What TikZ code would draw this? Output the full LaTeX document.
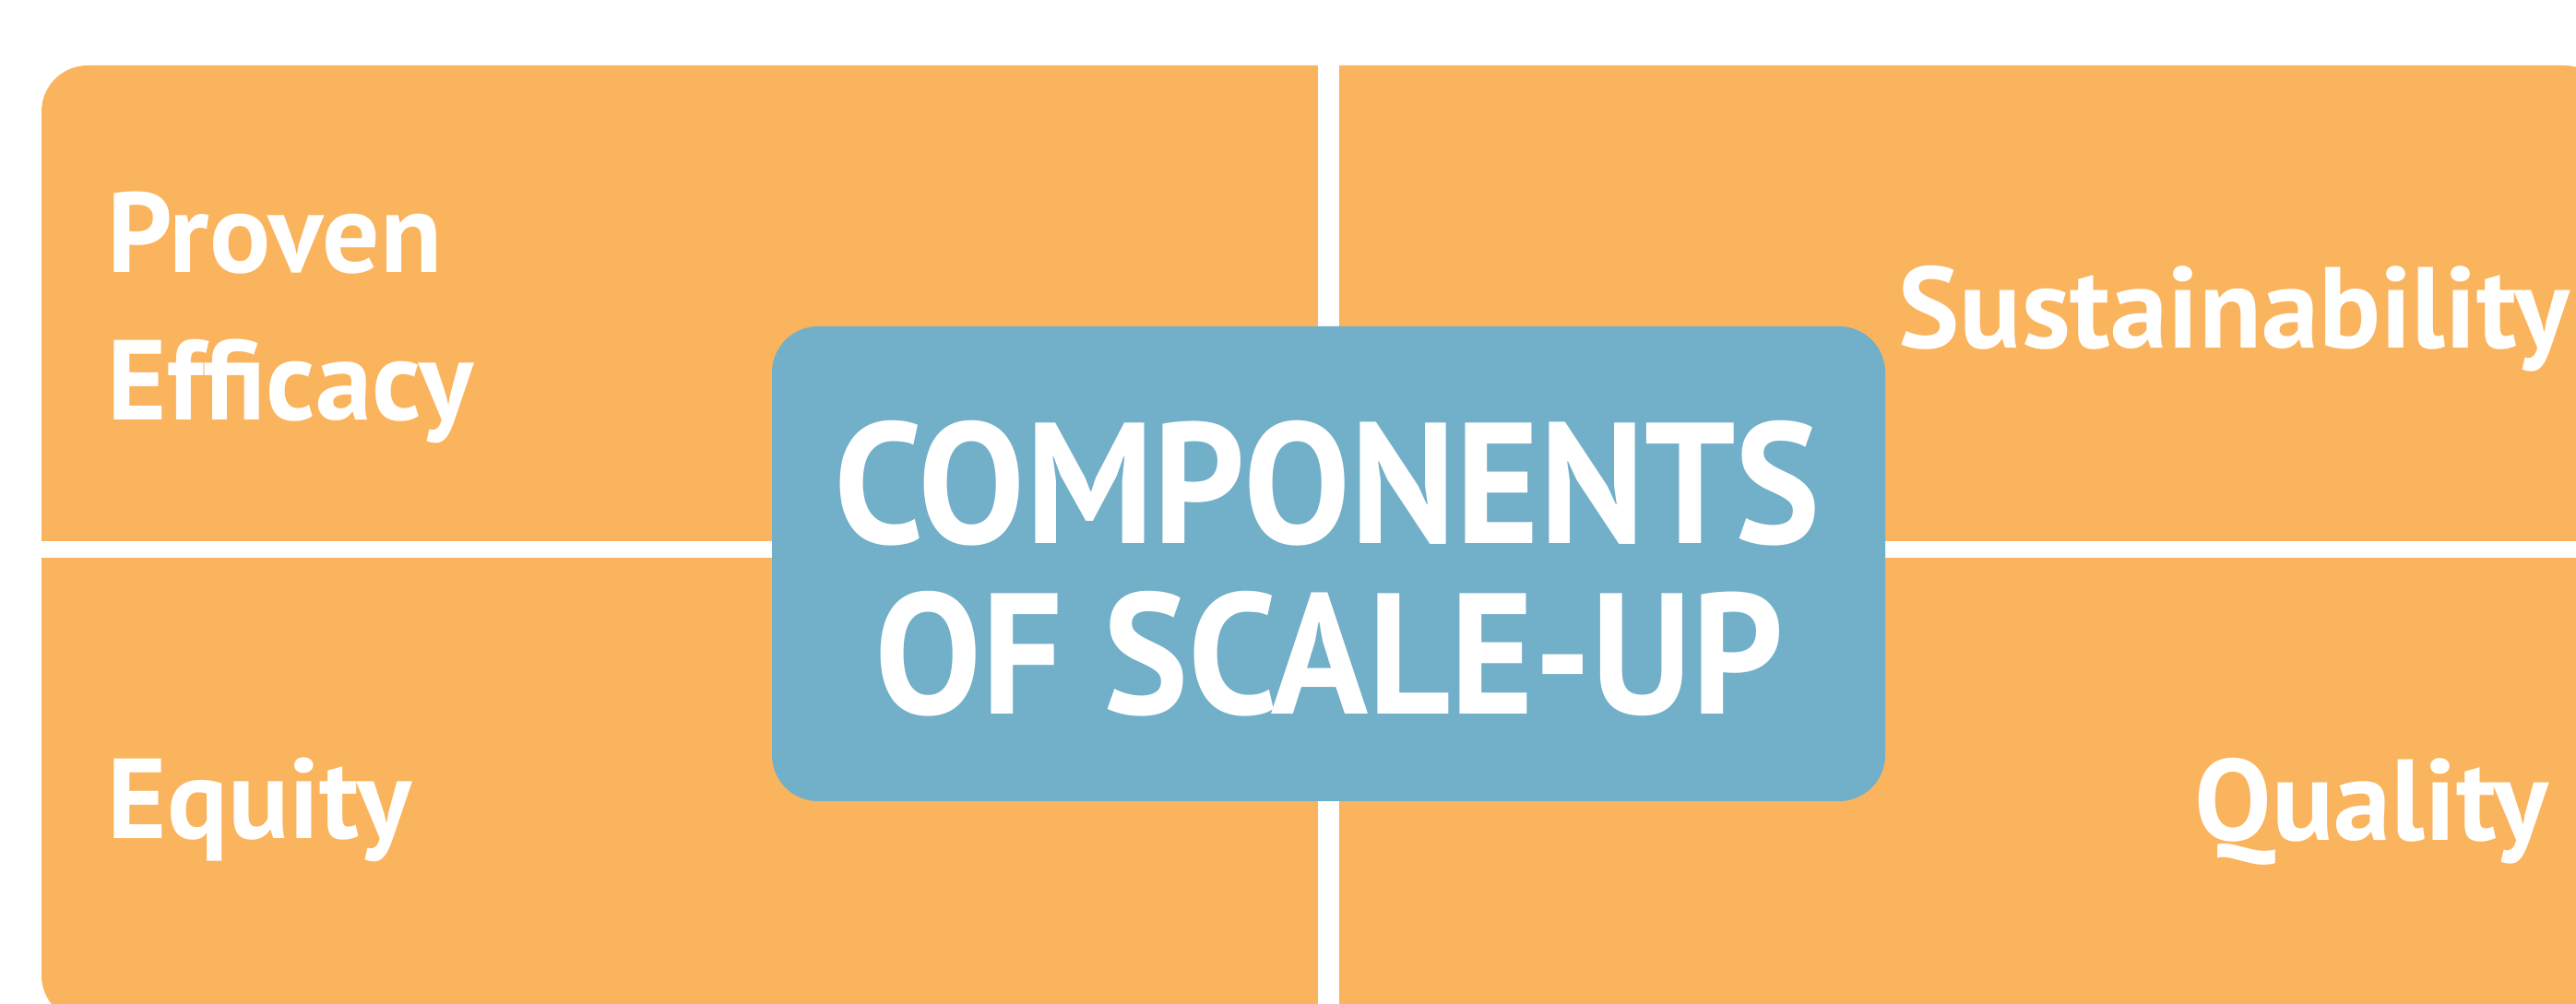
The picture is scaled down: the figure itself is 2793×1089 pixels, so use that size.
\documentclass[tikz,border=0pt]{standalone}
\usepackage{fontspec}
\setmainfont{PT Sans}
\definecolor{panelorange}{RGB}{250,180,94}
\definecolor{centreblue}{RGB}{114,175,200}
\begin{document}
\begin{tikzpicture}[x=0.3pt, y=-0.3pt,
  panel/.style={fill=panelorange, draw=none, rounded corners=15pt},
  gap/.style={fill=white, draw=none},
  hub/.style={fill=centreblue, draw=none, rounded corners=15pt},
  label/.style={text=white, font=\bfseries\fontsize{37}{44}\selectfont, inner sep=0pt},
  rlabel/.style={text=white, font=\bfseries\fontsize{37.5}{45}\selectfont, inner sep=0pt},
  hubtext/.style={text=white, font=\bfseries\fontsize{56}{66}\selectfont, inner sep=0pt, xscale=0.93}]
  % canvas
  \useasboundingbox (0,0) rectangle (2793,1089);
  \fill[white] (0,0) rectangle (2793,1089);
  \clip (0,0) rectangle (2793,1089);
  % orange field split into four quadrants by white gaps
  \path[panel] (45,71) rectangle (2830,1108);
  \path[gap] (1429,60) rectangle (1452,1120);
  \path[gap] (40,587) rectangle (2840,605);
  % central box
  \path[hub] (837,354) rectangle (2044,869);
  % quadrant labels
  \node[label, anchor=base west] (proven) at (116,296) {Proven};
  \node[label, anchor=base west] (efficacy) at (116,456) {Efficacy};
  \node[label, anchor=base west] (equity) at (116,910) {Equity};
  \node[rlabel, anchor=base west] (sustain) at (2058,378) {Sustainability};
  \node[rlabel, anchor=base west] (quality) at (2379,912) {Quality};
  % title in the central box
  \node[hubtext, anchor=base] (comp) at (1439,590) {COMPONENTS};
  \node[hubtext, anchor=base] (scale) at (1441,775) {OF SCALE-UP};
\end{tikzpicture}
\end{document}
